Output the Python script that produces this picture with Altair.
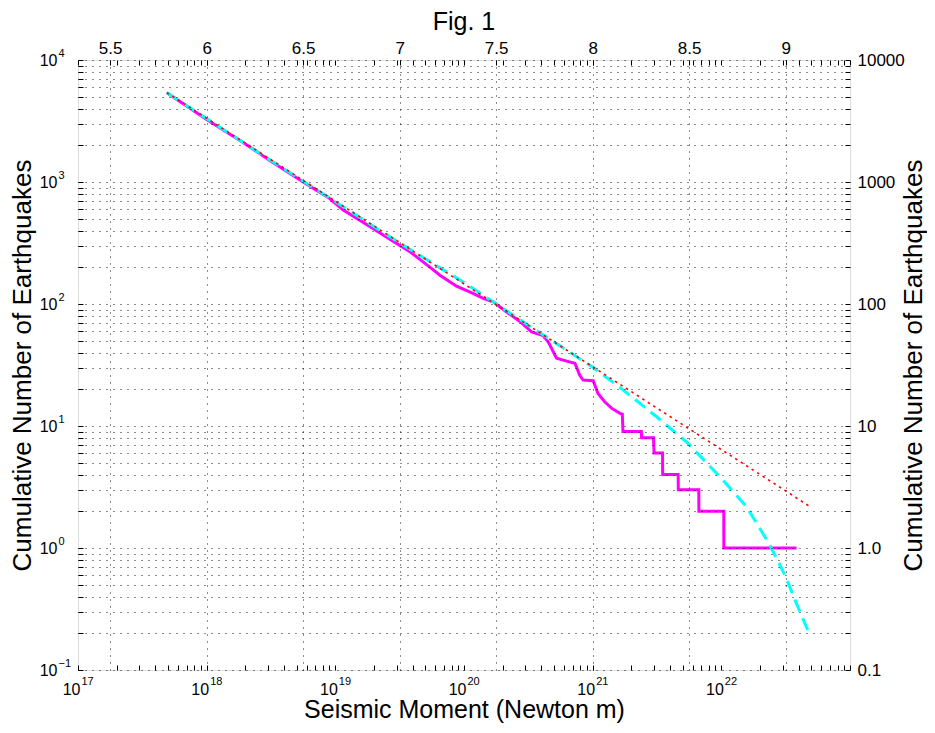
import altair as alt
import pandas as pd

FONT = "Liberation Sans"

# ---- data -------------------------------------------------------------------
# observed cumulative number of earthquakes (magenta, solid)
obs_M = [4.9e17, 1.0e18, 2.0e18, 3.16e18, 5.62e18, 8.9e18, 1.15e19, 1.58e19,
         2.24e19, 2.99e19, 3.8e19, 5.62e19, 6.46e19, 8.75e19, 1.175e20, 1.41e20,
         1.69e20, 2.14e20, 2.72e20, 3.35e20, 4.12e20, 4.51e20, 5.24e20, 6.27e20,
         7.28e20, 7.94e20, 8.43e20, 1.01e21, 1.10e21, 1.24e21, 1.40e21, 1.63e21,
         1.70e21, 1.72e21, 2.39e21, 2.40e21, 2.97e21, 3.00e21, 3.49e21, 3.50e21,
         4.62e21, 4.63e21, 6.68e21, 6.69e21, 1.045e22, 1.046e22, 3.84e22]
obs_N = [5400, 3250, 2050, 1480, 1000, 740, 590, 480,
         380, 314, 268, 195, 173, 140, 122, 111,
         104, 86, 72, 59, 55, 49, 36, 34,
         32.7, 26, 23.8, 23.5, 18.5, 15.8, 14.0, 12.7,
         12.5, 9, 9, 8, 8, 6, 6, 4,
         4, 3, 3, 2, 2, 1, 1]

# tapered distribution (cyan, dashed)
taper_M = [4.9e17, 3.16e18, 1.0e19, 3.16e19, 1.0e20, 3.16e20, 9.9e20, 1.73e21,
           3.14e21, 5.52e21, 1.03e22, 1.57e22, 2.38e22, 3.12e22, 3.84e22, 4.81e22]
taper_N = [5400, 1500, 690, 316, 150, 67, 30.6, 19.7,
           11.9, 7.2, 3.6, 2.18, 1.06, 0.60, 0.35, 0.20]

# pure power law (red, dotted)
gr_M = [4.9e17, 5.0e22]
gr_N = [5400, 2.15]

# ---- tick labels ------------------------------------------------------------
x_decades = [1e17, 1e18, 1e19, 1e20, 1e21, 1e22]
x_exponents = ["17", "18", "19", "20", "21", "22"]
y_decades = [0.1, 1.0, 10.0, 100.0, 1000.0, 10000.0]
y_exponents = ["\u22121", "0", "1", "2", "3", "4"]
y_right_labels = ["0.1", "1.0", "10", "100", "1000", "10000"]
mw_ticks = [5.5, 6.0, 6.5, 7.0, 7.5, 8.0, 8.5, 9.0]
mw_labels = ["5.5", "6", "6.5", "7", "7.5", "8", "8.5", "9"]

x_minor = [float(f"{m}e{k}") for k in range(17, 23) for m in range(1, 10)] + [1e23]
y_minor = [float(f"{m}e{k}") for k in range(-1, 4) for m in range(1, 10)] + [1e4]

X_DOMAIN = [1e17, 1e23]
Y_DOMAIN = [0.1, 1e4]
MW_DOMAIN = [2 / 3 * 17 - 6, 2 / 3 * 23 - 6]


def expr_map(values, labels):
    s = "''"
    for v, l in reversed(list(zip(values, labels))):
        s = f"datum.value == {v!r} ? '{l}' : ({s})"
    return s


obs_df = pd.DataFrame({"M": obs_M, "N": obs_N, "i": range(len(obs_M))})
taper_df = pd.DataFrame({"M": taper_M, "N": taper_N, "i": range(len(taper_M))})
gr_df = pd.DataFrame({"M": gr_M, "N": gr_N, "i": range(len(gr_M))})
mw_df = pd.DataFrame({"Mw": mw_ticks})

xscale = alt.Scale(type="log", domain=X_DOMAIN, nice=False)
yscale = alt.Scale(type="log", domain=Y_DOMAIN, nice=False)

common = dict(domain=False, tickColor="black", tickWidth=1, tickSize=5, offset=-5,
              labelFont=FONT, titleFont=FONT, labelColor="black", titleColor="black",
              titleFontWeight="normal", labelFlush=False, labelOverlap=False,
              labelBound=False)

grid_style = dict(gridColor="black", gridDash=[1, 6], gridWidth=1, gridOpacity=0.9)

# layer 1: magenta observed curve; bottom "10" labels and left "10" labels + grid
l1 = alt.Chart(obs_df).mark_line(color="#ff00ff", strokeWidth=3).encode(
    x=alt.X("M:Q", scale=xscale,
            axis=alt.Axis(orient="bottom", values=x_minor,
                          labelExpr=expr_map(x_decades, ["10"] * 6),
                          labelAlign="right", labelOffset=2, labelPadding=11,
                          labelFontSize=16, grid=False,
                          title="Seismic Moment (Newton m)", titleFontSize=25,
                          titleY=44, titleBaseline="middle", **common)),
    y=alt.Y("N:Q", scale=yscale,
            axis=alt.Axis(orient="left", values=y_minor,
                          labelExpr=expr_map(y_decades, ["10"] * 6),
                          labelAlign="right", labelPadding=21, labelFontSize=16,
                          grid=True, zindex=1, **grid_style,
                          title="Cumulative Number of Earthquakes", titleFontSize=26,
                          titleX=-61, titleAngle=270, titleBaseline="middle",
                          **common)),
    order=alt.Order("i:Q"),
)

# layer 2: cyan tapered curve; exponent labels for bottom and left axes
exp_common = dict(common)
exp_common.update(tickOpacity=0)
l2 = alt.Chart(taper_df).mark_line(color="#00ffff", strokeWidth=3, strokeDash=[13, 7]).encode(
    x=alt.X("M:Q", scale=xscale,
            axis=alt.Axis(orient="bottom", values=x_decades,
                          labelExpr=expr_map(x_decades, x_exponents),
                          labelAlign="left", labelOffset=3, labelPadding=5,
                          labelFontSize=11, grid=False, title=None, **exp_common)),
    y=alt.Y("N:Q", scale=yscale,
            axis=alt.Axis(orient="left", values=y_decades,
                          labelExpr=expr_map(y_decades, y_exponents),
                          labelAlign="left", labelOffset=-7, labelPadding=20,
                          labelFontSize=11, grid=False, title=None, **exp_common)),
    order=alt.Order("i:Q"),
)

# layer 3: red power law; top minor ticks and right axis
l3 = alt.Chart(gr_df).mark_line(color="#ff0000", strokeWidth=1.6, strokeDash=[2.5, 4]).encode(
    x=alt.X("M:Q", scale=xscale,
            axis=alt.Axis(orient="top", values=x_minor, labels=False, grid=False,
                          title=None, **common)),
    y=alt.Y("N:Q", scale=yscale,
            axis=alt.Axis(orient="right", values=y_minor,
                          labelExpr=expr_map(y_decades, y_right_labels),
                          labelAlign="left", labelPadding=7, labelFontSize=17,
                          grid=False, title="Cumulative Number of Earthquakes",
                          titleFontSize=26, titleX=68, titleAngle=270,
                          titleBaseline="middle", **common)),
    order=alt.Order("i:Q"),
)

# layer 4: moment magnitude axis on top with vertical grid lines
l4 = alt.Chart(mw_df).mark_rule(opacity=0).encode(
    x=alt.X("Mw:Q", scale=alt.Scale(domain=MW_DOMAIN, nice=False, zero=False),
            axis=alt.Axis(orient="top", values=mw_ticks,
                          labelExpr=expr_map(mw_ticks, mw_labels),
                          labelPadding=3, labelFontSize=17, grid=True, zindex=1,
                          **grid_style, title=None, **common)),
)

chart = alt.layer(l1, l2, l3, l4).resolve_scale(
    x="independent", y="independent"
).properties(
    width=772,
    height=610,
    title=alt.TitleParams("Fig. 1", font=FONT, fontSize=25, fontWeight="normal",
                          color="black", anchor="middle", offset=4),
    autosize=alt.AutoSizeParams(type="none"),
    padding={"left": 70, "top": 52, "right": 77, "bottom": 53},
).configure_view(
    stroke="black", strokeWidth=1.5
).configure(
    background="white"
)

chart.save("out.html", embed_options={"renderer": "svg", "actions": False})
